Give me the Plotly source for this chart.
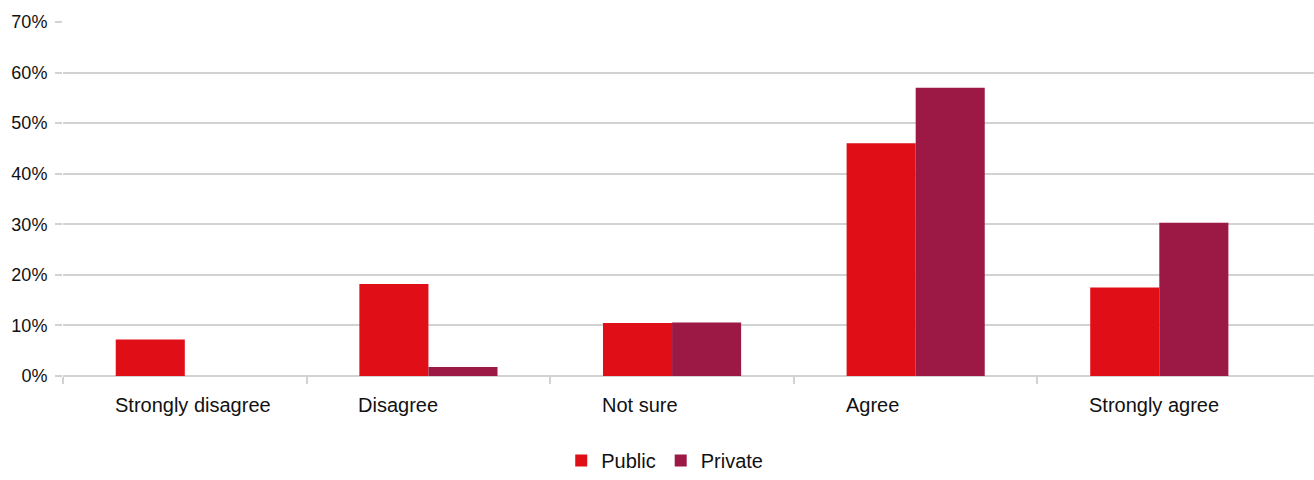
import plotly.graph_objects as go

# Survey responses (% of respondents)
categories = ["Strongly disagree", "Disagree", "Not sure", "Agree", "Strongly agree"]
public = [7.2, 18.2, 10.5, 46.0, 17.5]
private = [0.0, 1.8, 10.6, 57.0, 30.3]
y_ticks = [0, 10, 20, 30, 40, 50, 60, 70]
y_tick_labels = [f"{v}%" for v in y_ticks]

PUBLIC_COLOR = "#E00E16"
PRIVATE_COLOR = "#9B1944"
GRID = "#d2d2d2"
FONT = "Liberation Sans, Arial, sans-serif"
BARGAP = 0.433

x_pos = list(range(len(categories)))

fig = go.Figure()
fig.add_trace(go.Bar(
    x=x_pos, y=public, name="Public",
    marker=dict(color=PUBLIC_COLOR, line=dict(width=0)),
))
fig.add_trace(go.Bar(
    x=x_pos, y=private, name="Private",
    marker=dict(color=PRIVATE_COLOR, line=dict(width=0)),
))

# Category labels sit left-aligned under the first bar of each group
group_half = (1 - BARGAP) / 2
for i, cat in enumerate(categories):
    fig.add_annotation(
        x=i - group_half, y=-0.082, xref="x", yref="paper", xshift=-3,
        text=cat, showarrow=False, xanchor="left", yanchor="middle",
        font=dict(family=FONT, size=20, color="#111"),
    )

fig.update_layout(
    width=1314, height=480,
    margin=dict(l=63, r=0, t=22, b=104),
    paper_bgcolor="white", plot_bgcolor="white",
    barmode="group", bargap=BARGAP, bargroupgap=0,
    font=dict(family=FONT, size=18, color="#111"),
    legend=dict(
        orientation="h", x=0.481, y=0.0, xref="paper", yref="container",
        xanchor="center", yanchor="bottom",
        font=dict(family=FONT, size=20, color="#111"),
    ),
    xaxis=dict(
        range=[-0.5, 4.635],
        tickmode="array", tickvals=[-0.5, 0.5, 1.5, 2.5, 3.5],
        showticklabels=False, ticks="outside", ticklen=7,
        tickcolor=GRID, tickwidth=1.5,
        showgrid=False, zeroline=False, showline=False,
    ),
    yaxis=dict(
        range=[0, 70],
        tickmode="array", tickvals=y_ticks, ticktext=y_tick_labels,
        ticks="outside", ticklen=7, tickcolor=GRID, tickwidth=1.5,
        ticklabelstandoff=4,
        showgrid=True, gridcolor=GRID, gridwidth=1.5,
        zeroline=True, zerolinecolor=GRID, zerolinewidth=1.5,
        showline=False, tickfont=dict(family=FONT, size=18, color="#111"),
    ),
)

fig.write_html("out.html")
